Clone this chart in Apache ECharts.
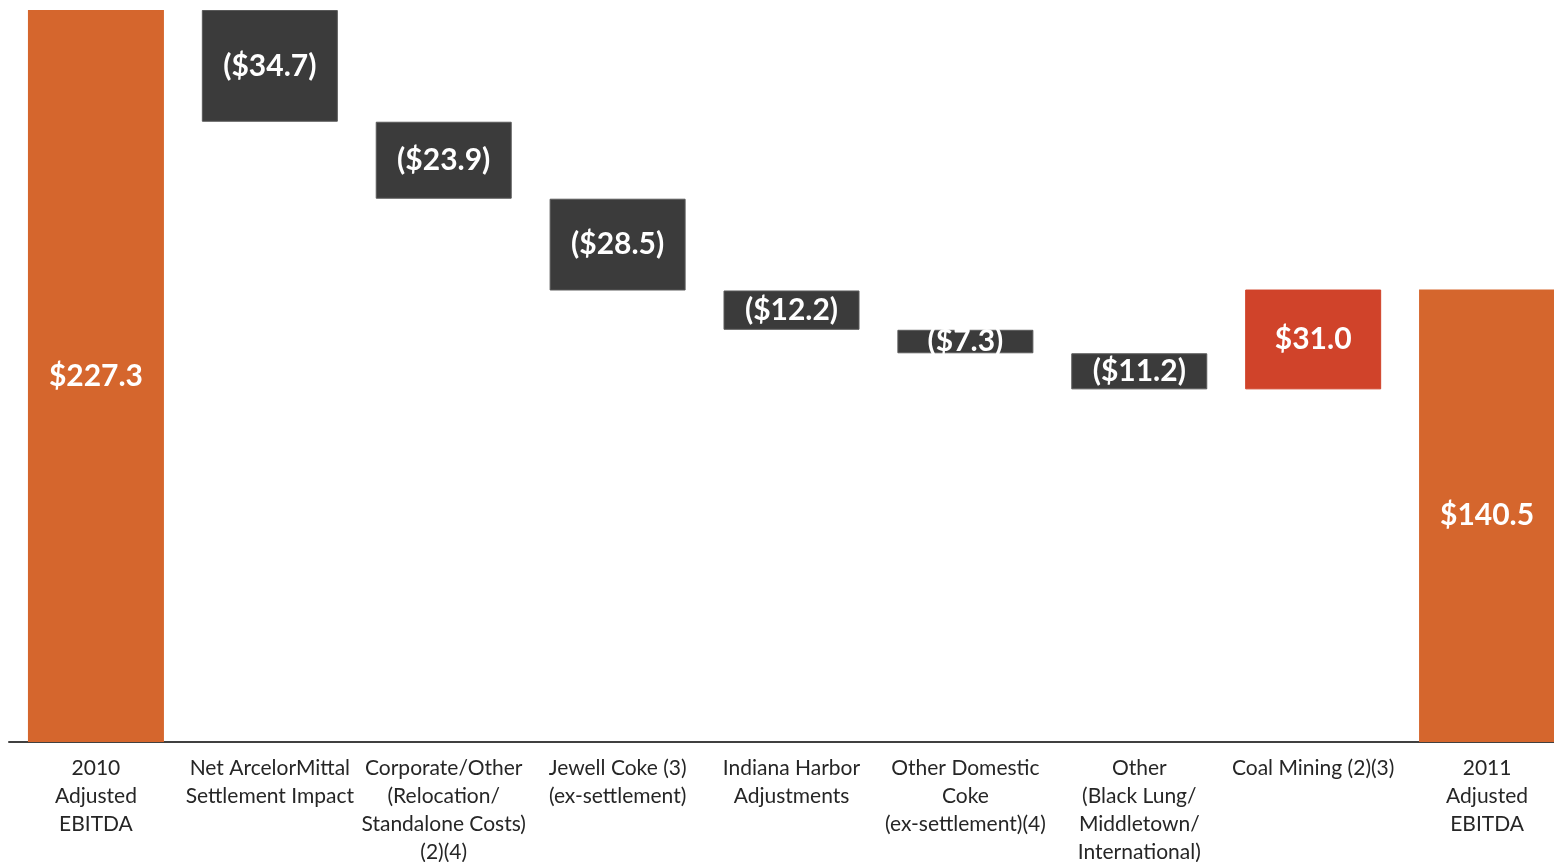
<!DOCTYPE html>
<html>
<head>
<meta charset="utf-8">
<title>Adjusted EBITDA bridge</title>
<script src="https://cdn.jsdelivr.net/npm/echarts@6/dist/echarts.min.js"></script>
<style>
    html, body { margin: 0; padding: 0; background: #fff; }
    #chart { width: 1554px; height: 862px; }
</style>
</head>
<body>
<div id="chart"></div>
<script>
var categories = [
    '2010\nAdjusted\nEBITDA',
    'Net ArcelorMittal\nSettlement Impact',
    'Corporate/Other\n(Relocation/\nStandalone Costs)\n(2)(4)',
    'Jewell Coke (3)\n(ex-settlement)',
    'Indiana Harbor\nAdjustments',
    'Other Domestic\nCoke\n(ex-settlement)(4)',
    'Other\n(Black Lung/\nMiddletown/\nInternational)',
    'Coal Mining (2)(3)',
    '2011\nAdjusted\nEBITDA'
];
// change per step, $ millions; first and last are totals
var values = [227.3, -34.7, -23.9, -28.5, -12.2, -7.3, -11.2, 31.0, 140.5];
var kinds = ['total', 'step', 'step', 'step', 'step', 'step', 'step', 'step', 'total'];

var colors = {
    total: '#D5662D',
    down: '#3B3B3B',
    up: '#D0432A'
};

var formatValue = function (v) {
    var s = '$' + Math.abs(v).toFixed(1);
    return v < 0 ? '(' + s + ')' : s;
};

var buildSeries = function () {
    var base = [];
    var shown = [];
    var running = 0;
    for (var i = 0; i < values.length; i++) {
        var v = values[i];
        var color;
        if (kinds[i] == 'total') {
            base.push(0);
            shown.push({value: v, raw: v, itemStyle: {color: colors.total}});
            running = v;
            continue;
        }
        if (v < 0) {
            running += v;
            base.push(running);
            color = colors.down;
        } else {
            base.push(running);
            running += v;
            color = colors.up;
        }
        shown.push({
            value: Math.abs(v),
            raw: v,
            itemStyle: {color: color, borderColor: v < 0 ? '#5a5a5a' : color, borderWidth: 1}
        });
    }
    return {base: base, shown: shown};
};

var initChart = function () {
    var thisChart = echarts.init(document.getElementById('chart'), null, {renderer: 'canvas'});
    var s = buildSeries();
    var font = 'Lato, "Open Sans", sans-serif';
    var option = {
        animation: false,
        grid: {left: 9, width: 1565, top: 10, bottom: 120, outerBoundsMode: 'none', containLabel: false},
        xAxis: {
            type: 'category',
            data: categories,
            axisLine: {lineStyle: {color: '#404040', width: 2}},
            axisTick: {show: false},
            axisLabel: {
                interval: 0,
                margin: 12,
                color: '#262626',
                fontSize: 21,
                lineHeight: 28,
                fontFamily: font
            }
        },
        yAxis: {
            type: 'value',
            min: 0,
            max: 227.3,
            show: false,
            splitLine: {show: false}
        },
        series: [{
            type: 'bar',
            stack: 'wf',
            data: s.base,
            barWidth: 136,
            itemStyle: {color: 'transparent'},
            silent: true
        }, {
            type: 'bar',
            stack: 'wf',
            data: s.shown,
            barWidth: 136,
            label: {
                show: true,
                position: 'inside',
                color: '#fff',
                fontSize: 30,
                fontWeight: 'bold',
                fontFamily: font,
                formatter: function (p) {
                    return formatValue(p.data.raw);
                }
            }
        }]
    };
    thisChart.setOption(option);
};

initChart();
</script>
</body>
</html>
